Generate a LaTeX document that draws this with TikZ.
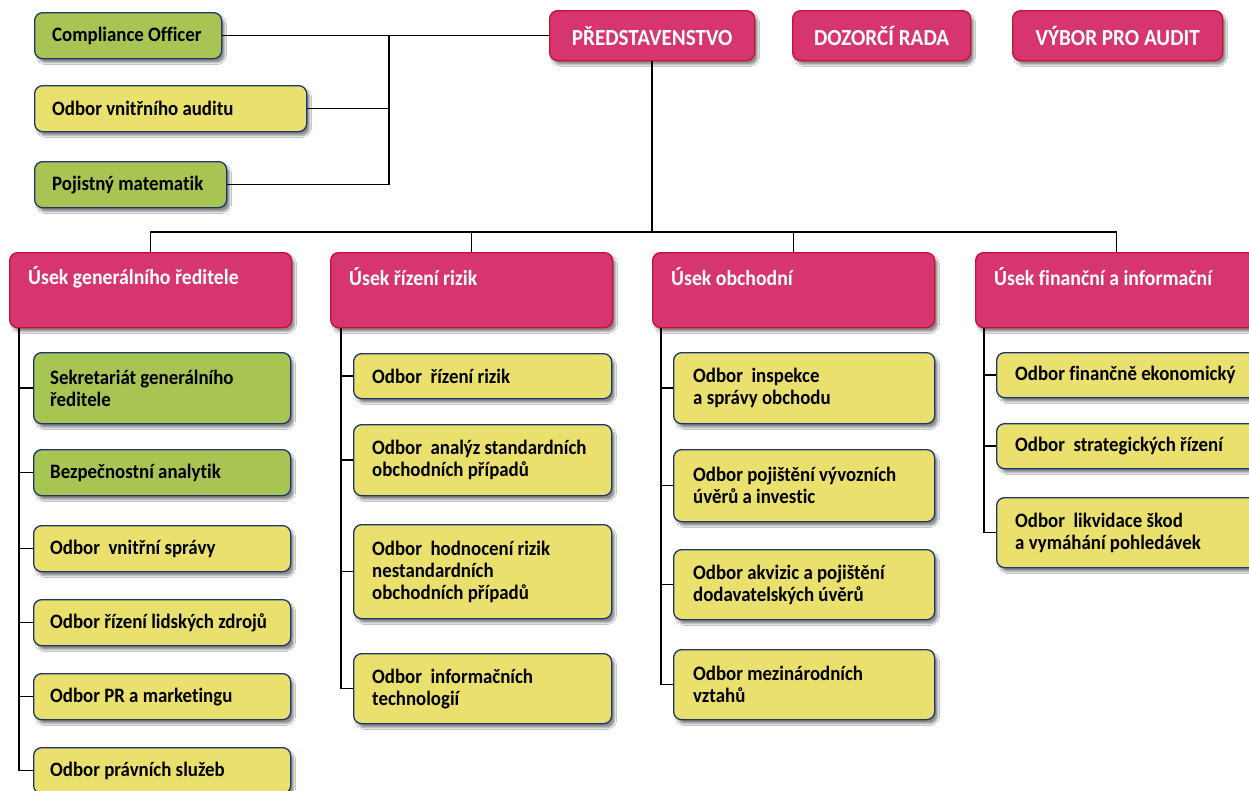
\documentclass[tikz,border=0pt]{standalone}
\usepackage{fontspec}
\setmainfont{Carlito}[FakeStretch=0.92, Ligatures=NoCommon]
\usetikzlibrary{shadows.blur}
\definecolor{pinkc}{RGB}{214,53,112}
\definecolor{redb}{RGB}{196,18,48}
\definecolor{greenc}{RGB}{168,196,82}
\definecolor{yellowc}{RGB}{234,224,110}
\definecolor{navyb}{RGB}{30,52,110}
\tikzset{
  shad/.style={blur shadow={shadow xshift=3pt, shadow yshift=-4pt, shadow blur steps=6, shadow opacity=45}},
  boxbase/.style={rectangle, rounded corners=8pt, line width=1.3pt, anchor=north west, inner sep=0pt, shad},
  yelbox/.style={boxbase, draw=navyb, fill=yellowc},
  grnbox/.style={boxbase, draw=navyb, fill=greenc},
  pnkbox/.style={boxbase, draw=redb, fill=pinkc},
  txt/.style={anchor=west, align=left, inner sep=0pt, font=\bfseries\fontsize{20.5}{22}\selectfont, text=black},
  toptxt/.style={inner sep=0pt, font=\bfseries\fontsize{23}{25}\selectfont, text=white},
  utxt/.style={anchor=west, inner sep=0pt, font=\bfseries\fontsize{21.5}{24}\selectfont, text=white},
  conn/.style={draw=black, line width=1.4pt},
}
\begin{document}
\begin{tikzpicture}[x=1pt,y=-1pt]
\useasboundingbox (0,0) rectangle (1249,790);
\fill[white] (0,0) rectangle (1249,790);

% top row
\node[pnkbox, minimum width=205pt, minimum height=50pt] (pred) at (549,10) {};
\node[toptxt] (predt) at (pred.center) {PŘEDSTAVENSTVO};
\node[pnkbox, minimum width=178pt, minimum height=50pt] (doz) at (792,10) {};
\node[toptxt] (dozt) at (doz.center) {DOZORČÍ RADA};
\node[pnkbox, minimum width=210pt, minimum height=50pt] (vyb) at (1012,10) {};
\node[toptxt] (vybt) at (vyb.center) {VÝBOR PRO AUDIT};

% top left
\node[grnbox, minimum width=187pt, minimum height=46pt] (co) at (34,12) {};
\node[txt] (cot) at ([xshift=18pt]co.west) {Compliance Officer};
\node[yelbox, minimum width=272pt, minimum height=46pt] (aud) at (34,85) {};
\node[txt] (audt) at ([xshift=18pt]aud.west) {Odbor vnitřního auditu};
\node[grnbox, minimum width=192pt, minimum height=46pt] (pm) at (34,161) {};
\node[txt] (pmt) at ([xshift=18pt]pm.west) {Pojistný matematik};

\coordinate (tlx) at (389,0);
\draw[conn] (co.east) -- (pred.west);
\draw[conn] (co.east -| tlx) -- (pm.east -| tlx);
\draw[conn] (aud.east) -- (aud.east -| tlx);
\draw[conn] (pm.east) -- (pm.east -| tlx);

% divisions
\node[pnkbox, minimum width=282pt, minimum height=75pt] (u1) at (9,252) {};
\node[utxt] (u1t) at ([xshift=19pt,yshift=-25pt]u1.north west) {Úsek generálního ředitele};
\node[pnkbox, minimum width=282pt, minimum height=75pt] (u2) at (330,252) {};
\node[utxt] (u2t) at ([xshift=19pt,yshift=-25pt]u2.north west) {Úsek řízení rizik};
\node[pnkbox, minimum width=282pt, minimum height=75pt] (u3) at (652,252) {};
\node[utxt] (u3t) at ([xshift=19pt,yshift=-25pt]u3.north west) {Úsek obchodní};
\node[pnkbox, minimum width=282pt, minimum height=75pt] (u4) at (975,252) {};
\node[utxt] (u4t) at ([xshift=19pt,yshift=-25pt]u4.north west) {Úsek finanční a informační};

\coordinate (busy) at (0,232);
\draw[conn] (pred.south) -- (pred.south |- busy);
\draw[conn] (u1.north) |- (u4.north |- busy) -- (u4.north);
\draw[conn] (u2.north) -- (u2.north |- busy);
\draw[conn] (u3.north) -- (u3.north |- busy);

% column 1
\node[grnbox, minimum width=257pt, minimum height=71pt] (b11) at (33,352) {};
\node[txt] (b11t) at ([xshift=17pt]b11.west) {Sekretariát generálního\\ředitele};
\node[grnbox, minimum width=257pt, minimum height=46pt] (b12) at (33,449) {};
\node[txt] (b12t) at ([xshift=17pt]b12.west) {Bezpečnostní analytik};
\node[yelbox, minimum width=257pt, minimum height=46pt] (b13) at (33,525) {};
\node[txt] (b13t) at ([xshift=17pt]b13.west) {Odbor\ \ vnitřní správy};
\node[yelbox, minimum width=257pt, minimum height=46pt] (b14) at (33,599) {};
\node[txt] (b14t) at ([xshift=17pt]b14.west) {Odbor řízení lidských zdrojů};
\node[yelbox, minimum width=257pt, minimum height=46pt] (b15) at (33,673) {};
\node[txt] (b15t) at ([xshift=17pt]b15.west) {Odbor PR a marketingu};
\node[yelbox, minimum width=257pt, minimum height=46pt] (b16) at (33,747) {};
\node[txt] (b16t) at ([xshift=17pt]b16.west) {Odbor právních služeb};

\coordinate (c1) at (19,0);
\draw[conn] (u1.south -| c1) |- (b16.west);
\foreach \b in {b11,b12,b13,b14,b15} \draw[conn] (\b.west -| c1) -- (\b.west);

% column 2
\node[yelbox, minimum width=258pt, minimum height=45pt] (b21) at (353,353) {};
\node[txt] (b21t) at ([xshift=19pt]b21.west) {Odbor\ \ řízení rizik};
\node[yelbox, minimum width=258pt, minimum height=71pt] (b22) at (353,424) {};
\node[txt] (b22t) at ([xshift=19pt]b22.west) {Odbor\ \ analýz standardních\\obchodních případů};
\node[yelbox, minimum width=258pt, minimum height=94pt] (b23) at (353,524) {};
\node[txt] (b23t) at ([xshift=19pt]b23.west) {Odbor\ \ hodnocení rizik\\nestandardních\\obchodních případů};
\node[yelbox, minimum width=258pt, minimum height=70pt] (b24) at (353,653) {};
\node[txt] (b24t) at ([xshift=19pt]b24.west) {Odbor\ \ informačních\\technologií};

\coordinate (c2) at (341,0);
\draw[conn] (u2.south -| c2) |- (b24.west);
\foreach \b in {b21,b22,b23} \draw[conn] (\b.west -| c2) -- (\b.west);

% column 3
\node[yelbox, minimum width=261pt, minimum height=71pt] (b31) at (673,352) {};
\node[txt] (b31t) at ([xshift=20pt]b31.west) {Odbor\ \ inspekce\\a správy obchodu};
\node[yelbox, minimum width=261pt, minimum height=72pt] (b32) at (673,449) {};
\node[txt] (b32t) at ([xshift=20pt]b32.west) {Odbor pojištění vývozních\\úvěrů a investic};
\node[yelbox, minimum width=261pt, minimum height=70pt] (b33) at (673,549) {};
\node[txt] (b33t) at ([xshift=20pt]b33.west) {Odbor akvizic a pojištění\\dodavatelských úvěrů};
\node[yelbox, minimum width=261pt, minimum height=70pt] (b34) at (673,649) {};
\node[txt] (b34t) at ([xshift=20pt]b34.west) {Odbor mezinárodních\\vztahů};

\coordinate (c3) at (661,0);
\draw[conn] (u3.south -| c3) |- (b34.west);
\foreach \b in {b31,b32,b33} \draw[conn] (\b.west -| c3) -- (\b.west);

% column 4
\node[yelbox, minimum width=266pt, minimum height=45pt] (b41) at (996,352) {};
\node[txt] (b41t) at ([xshift=19pt]b41.west) {Odbor finančně ekonomický};
\node[yelbox, minimum width=266pt, minimum height=45pt] (b42) at (996,423) {};
\node[txt] (b42t) at ([xshift=19pt]b42.west) {Odbor\ \ strategických řízení};
\node[yelbox, minimum width=266pt, minimum height=70pt] (b43) at (996,497) {};
\node[txt] (b43t) at ([xshift=19pt]b43.west) {Odbor\ \ likvidace škod\\a vymáhání pohledávek};

\coordinate (c4) at (984,0);
\draw[conn] (u4.south -| c4) |- (b43.west);
\foreach \b in {b41,b42} \draw[conn] (\b.west -| c4) -- (\b.west);
\end{tikzpicture}
\end{document}
